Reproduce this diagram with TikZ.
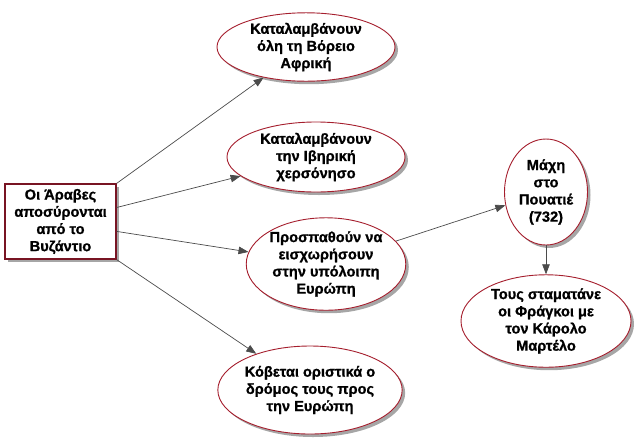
\documentclass[tikz,border=0pt]{standalone}
\usepackage{fontspec}
\setmainfont{Liberation Sans}
\newfontfamily\chartface{Liberation Sans}[UprightFont={* Bold},UprightFeatures={FakeBold=1}]
\usepackage{xcolor}
\usepackage{tikz}
\usetikzlibrary{positioning,arrows.meta,shapes.geometric,shadows}
\definecolor{evred}{RGB}{165,30,45}
\definecolor{boxred}{RGB}{120,20,35}
\definecolor{linkgray}{RGB}{75,75,75}
\newcommand{\chartfont}{\chartface\fontsize{14.6}{17.2}\selectfont}
\tikzset{chart/.style={>={Triangle[length=10pt,width=7.5pt]},x=1pt,y=-1pt},
    event/.style={ellipse,draw=evred,fill=white,line width=0.9pt,inner sep=0pt,align=center,
        font=\chartfont,
        drop shadow={shadow xshift=3pt,shadow yshift=-3pt,fill=black,opacity=0.35}},
    cause/.style={rectangle,draw=boxred,fill=white,line width=1.1pt,inner sep=0pt,align=center,
        font=\chartfont,minimum width=111pt,minimum height=75pt,
        drop shadow={shadow xshift=3pt,shadow yshift=-3pt,fill=black,opacity=0.35}},
    link/.style={->,draw=linkgray,line width=0.7pt}}

\begin{document}
\begin{tikzpicture}[chart]
    \useasboundingbox (0,0) rectangle (634,445);
    \node[cause](arabs) at (60.5,221.5){Οι Άραβες\\αποσύρονται\\από το\\Βυζάντιο};
    \node[event, minimum width=178pt, minimum height=68pt](africa) at (306,47)
        {Καταλαμβάνουν\\όλη τη Βόρειο\\Αφρική};
    \node[event, minimum width=178pt, minimum height=70pt](iberia) at (316,157)
        {Καταλαμβάνουν\\την Ιβηρική\\χερσόνησο};
    \node[event, minimum width=158pt, minimum height=92pt](europe) at (326,264)
        {Προσπαθούν να\\εισχωρήσουν\\στην υπόλοιπη\\Ευρώπη};
    \node[event, minimum width=175pt, minimum height=88pt](road) at (310,390)
        {Κόβεται οριστικά ο\\δρόμος τους προς\\την Ευρώπη};
    \node[event, minimum width=83pt, minimum height=106pt](poitiers) at (546,192)
        {Μάχη\\στο\\Πουατιέ\\(732)};
    \node[event, minimum width=170pt, minimum height=88pt](franks) at (546,321)
        {Τους σταματάνε\\οι Φράγκοι με\\τον Κάρολο\\Μαρτέλο};

    \draw[link] (arabs.north east) -- (africa);
    \draw[link] (arabs.14) -- (iberia);
    \draw[link] (arabs.-10) -- (europe);
    \draw[link] (arabs.south east) -- (road);
    \draw[link] (europe) -- (poitiers);
    \draw[link] (poitiers) -- (franks);
\end{tikzpicture}
\end{document}
